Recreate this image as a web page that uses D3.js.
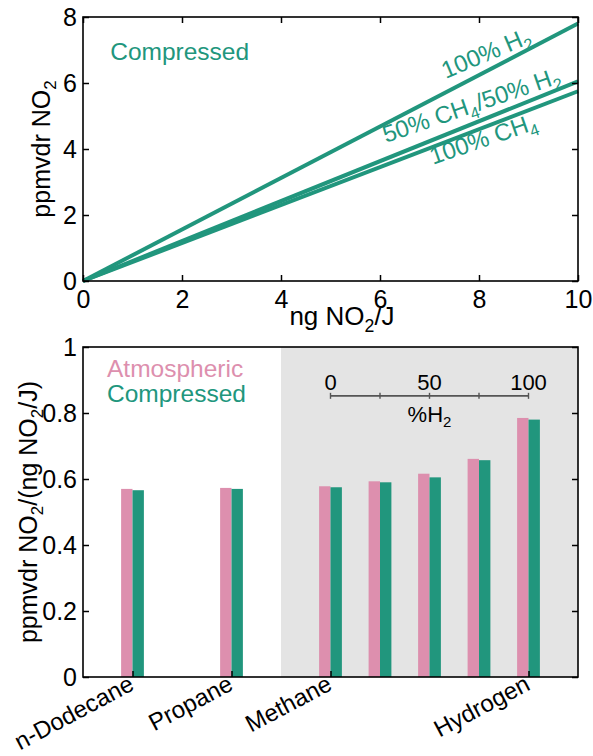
<!DOCTYPE html>
<html lang="en">
<head>
<meta charset="UTF-8">
<title>NO2 emission index</title>
<script src="https://d3js.org/d3.v7.min.js"></script>
<style>
  body { margin: 0; background: #fff; }
  svg { display: block; font-family: "Liberation Sans", Arial, Helvetica, sans-serif; }
</style>
</head>
<body>
<svg id="chart"></svg>
<script>
// ---- data ----
// top panel: lines through origin, x = ng NO2/J, y = ppmvdr NO2
var lineX = [0, 10];
var lineH2 = [0, 7.8];
var lineMix = [0, 6.05];
var lineCH4 = [0, 5.75];
var lineLabels = ["100% H_2", "50% CH_4/50% H_2", "100% CH_4"];
var topXTicks = [0, 2, 4, 6, 8, 10];
var topYTicks = [0, 2, 4, 6, 8];

// bottom panel: bars
var fuels = ["n-Dodecane", "Propane", "Methane", "25% H2", "50% H2", "75% H2", "Hydrogen"];
var fuelLabels = ["n-Dodecane", "Propane", "Methane", "", "", "", "Hydrogen"];
var atmospheric = [0.570, 0.573, 0.578, 0.593, 0.616, 0.661, 0.785];
var compressed = [0.566, 0.570, 0.575, 0.590, 0.605, 0.657, 0.780];
var botYTicks = [0, 0.2, 0.4, 0.6, 0.8, 1];
var h2Ticks = [0, 25, 50, 75, 100];
var h2Labels = [0, 50, 100];

// ---- layout ----
var teal = "#21967d", pink = "#dd8fae";
var W = 593, H = 756;
var svg = d3.select("#chart").attr("width", W).attr("height", H);

function rich(sel, s, fs) {
    // "_x" marks one subscript character
    var parts = s.split(/(_.)/), shifted = false;
    parts.forEach(function(p) {
        if (!p) return;
        if (p[0] === "_") {
            sel.append("tspan").attr("dy", fs * 0.25).attr("font-size", fs * 0.68).text(p[1]);
            shifted = true;
        } else {
            var t = sel.append("tspan").text(p);
            if (shifted) { t.attr("dy", -fs * 0.25); shifted = false; }
        }
    });
    return sel;
}

function frame(g, x0, y0, w, h) {
    g.append("rect").attr("x", x0).attr("y", y0).attr("width", w).attr("height", h)
     .attr("fill", "none").attr("stroke", "#000").attr("stroke-width", 1.6);
}

function styleAxis(g, fs) {
    g.select(".domain").remove();
    g.selectAll(".tick line").attr("stroke", "#000").attr("stroke-width", 1.5);
    g.selectAll("text").attr("font-size", fs).attr("fill", "#000").attr("font-family", null);
}

var fmt = d3.format("~g");

// ================= top panel =================
var xT = d3.scaleLinear().domain([0, 10]).range([83, 578]);
var yT = d3.scaleLinear().domain([0, 8]).range([281, 17]);
var topG = svg.append("g");

var line = d3.line().x(function(d) { return xT(d[0]); }).y(function(d) { return yT(d[1]); });
[lineH2, lineMix, lineCH4].forEach(function(s) {
    topG.append("path")
       .datum(lineX.map(function(x, i) { return [x, s[i]]; }))
       .attr("fill", "none").attr("stroke", teal).attr("stroke-width", 4)
       .attr("d", line);
});

topG.append("g").attr("transform", "translate(0,281)")
   .call(d3.axisBottom(xT).tickValues(topXTicks).tickSizeInner(-6).tickSizeOuter(0).tickPadding(9).tickFormat(fmt))
   .call(styleAxis, 25);
topG.append("g").attr("transform", "translate(0,17)")
   .call(d3.axisTop(xT).tickValues(topXTicks).tickSizeInner(-6).tickSizeOuter(0).tickFormat(""))
   .call(styleAxis, 25);
topG.append("g").attr("transform", "translate(83,0)")
   .call(d3.axisLeft(yT).tickValues(topYTicks).tickSizeInner(-6).tickSizeOuter(0).tickPadding(6).tickFormat(fmt))
   .call(styleAxis, 25);
topG.append("g").attr("transform", "translate(578,0)")
   .call(d3.axisRight(yT).tickValues(topYTicks).tickSizeInner(-6).tickSizeOuter(0).tickFormat(""))
   .call(styleAxis, 25);
frame(topG, 83, 17, 495, 264);

rich(topG.append("text").attr("x", 342).attr("y", 325).attr("text-anchor", "middle")
        .attr("font-size", 26), "ng NO_2/J", 26);
rich(topG.append("g").attr("transform", "translate(50," + ((17 + 281) / 2) + ") rotate(-90)")
        .append("text").attr("text-anchor", "middle").attr("font-size", 25), "ppmvdr NO_2", 25);

topG.append("text").attr("x", xT(0.55)).attr("y", yT(6.7)).attr("fill", teal)
   .attr("font-size", 24.5).text("Compressed");

var labelAt = [[7.33, 6.12, -23], [6.12, 4.18, -19], [7.07, 3.52, -19]];
lineLabels.forEach(function(s, i) {
    var p = labelAt[i];
    rich(topG.append("g")
            .attr("transform", "translate(" + xT(p[0]) + "," + yT(p[1]) + ") rotate(" + p[2] + ")")
            .append("text").attr("fill", teal).attr("font-size", 24), s, 24);
});

// ================= bottom panel =================
var slot = [1, 3, 5, 6, 7, 8, 9];
var xB = d3.scaleLinear().domain([0, 10]).range([83, 578]);
var yB = d3.scaleLinear().domain([0, 1]).range([677, 347]);
var botG = svg.append("g");
var bw = xB(0.23) - xB(0);

botG.append("rect").attr("x", xB(4)).attr("y", yB(1))
   .attr("width", xB(10) - xB(4)).attr("height", yB(0) - yB(1)).attr("fill", "#e4e4e4");

botG.selectAll(".atm").data(atmospheric).enter().append("rect")
   .attr("x", function(d, i) { return xB(slot[i]) - bw; })
   .attr("y", function(d) { return yB(d); })
   .attr("width", bw).attr("height", function(d) { return yB(0) - yB(d); })
   .attr("fill", pink);
botG.selectAll(".cmp").data(compressed).enter().append("rect")
   .attr("x", function(d, i) { return xB(slot[i]); })
   .attr("y", function(d) { return yB(d); })
   .attr("width", bw).attr("height", function(d) { return yB(0) - yB(d); })
   .attr("fill", teal);

botG.append("g").attr("transform", "translate(83,0)")
   .call(d3.axisLeft(yB).tickValues(botYTicks).tickSizeInner(-6).tickSizeOuter(0).tickPadding(6).tickFormat(fmt))
   .call(styleAxis, 25);
botG.append("g").attr("transform", "translate(578,0)")
   .call(d3.axisRight(yB).tickValues(botYTicks).tickSizeInner(-6).tickSizeOuter(0).tickFormat(""))
   .call(styleAxis, 25);

var labelled = fuels.map(function(f, i) { return i; }).filter(function(i) { return fuelLabels[i]; });
botG.append("g").attr("transform", "translate(0,677)")
   .call(d3.axisBottom(xB).tickValues(labelled.map(function(i) { return slot[i]; }))
          .tickSizeInner(-6).tickSizeOuter(0).tickFormat(""))
   .call(styleAxis, 24);
labelled.forEach(function(i) {
    botG.append("g")
       .attr("transform", "translate(" + (xB(slot[i]) + 3) + "," + (yB(0) + 12) + ") rotate(-28)")
       .append("text").attr("text-anchor", "end").attr("font-size", 24).text(fuelLabels[i]);
});
frame(botG, 83, 347, 495, 330);

rich(botG.append("g").attr("transform", "translate(37," + ((347 + 677) / 2) + ") rotate(-90)")
        .append("text").attr("text-anchor", "middle").attr("font-size", 25), "ppmvdr NO_2/(ng NO_2/J)", 25);

botG.append("text").attr("x", 107).attr("y", 377).attr("fill", pink).attr("font-size", 24.5).text("Atmospheric");
botG.append("text").attr("x", 107).attr("y", 402).attr("fill", teal).attr("font-size", 24.5).text("Compressed");

// %H2 scale bar over the methane/hydrogen blends
var pct = d3.scaleLinear().domain([0, 100]).range([xB(5), xB(9)]);
var barY = yB(0.852);
botG.append("line").attr("x1", pct(0)).attr("x2", pct(100)).attr("y1", barY).attr("y2", barY)
   .attr("stroke", "#555").attr("stroke-width", 1.6);
botG.selectAll(".h2tick").data(h2Ticks).enter().append("line")
   .attr("x1", function(d) { return pct(d); }).attr("x2", function(d) { return pct(d); })
   .attr("y1", barY - 3).attr("y2", barY + 3)
   .attr("stroke", "#555").attr("stroke-width", 1.4);
botG.selectAll(".h2lab").data(h2Labels).enter().append("text")
   .attr("x", function(d) { return pct(d); }).attr("y", yB(0.87))
   .attr("text-anchor", "middle").attr("font-size", 22).text(function(d) { return d; });
rich(botG.append("text").attr("x", pct(50)).attr("y", yB(0.773)).attr("text-anchor", "middle")
        .attr("font-size", 22), "%H_2", 22);
</script>
</body>
</html>
